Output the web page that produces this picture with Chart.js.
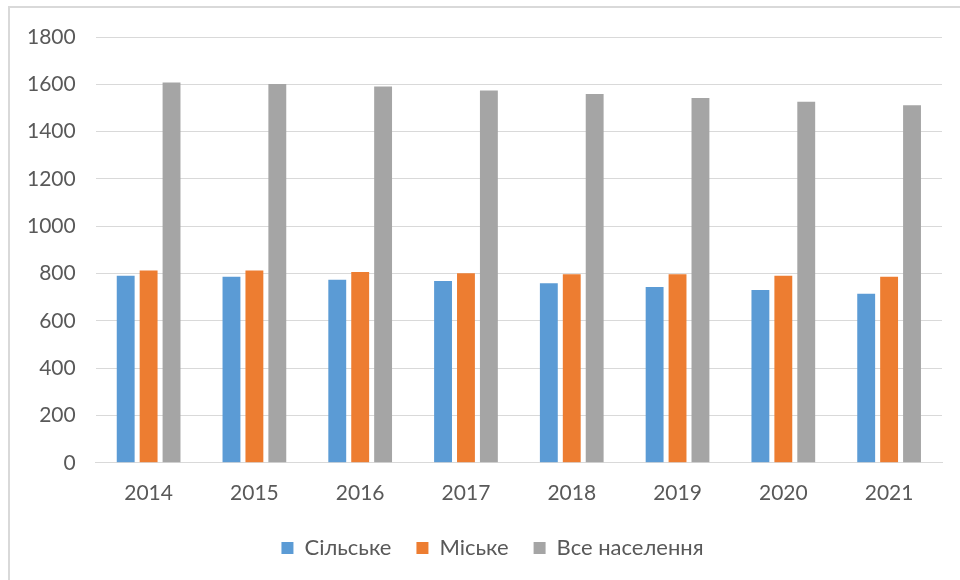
<!DOCTYPE html>
<html>
<head>
<meta charset="utf-8">
<script src="https://cdn.jsdelivr.net/npm/chart.js@4"></script>
<style>
  html, body { margin: 0; padding: 0; background: #fff; }
  #wrap { width: 960px; height: 580px; position: relative; }
</style>
</head>
<body>
<div id="wrap"><canvas id="chart" width="960" height="580"></canvas></div>
<script>
const YEARS = ['2014', '2015', '2016', '2017', '2018', '2019', '2020', '2021'];
const RURAL = [791, 786, 774, 769, 759, 743, 731, 715];
const URBAN = [813, 813, 807, 801, 797, 797, 791, 786];
const TOTAL = [1608, 1601, 1591, 1574, 1559, 1542, 1526, 1511];
const SERIES_NAMES = ['Сільське', 'Міське', 'Все населення'];

const COLORS = ['#5b9bd5', '#ed7d31', '#a5a5a5'];
const TEXT_COLOR = '#595959';
const GRID_COLOR = '#d9d9d9';
const FONT = { family: 'Lato, sans-serif', size: 21 };
const LEGEND_FONT = { family: 'Lato, sans-serif', size: 22 };
const LEGEND_SHIFT = 18;

// light frame along the top and left edges
const framePlugin = {
    id: 'frame',
    beforeDraw(chart) {
        const { ctx, width, height } = chart;
        ctx.save();
        ctx.strokeStyle = '#d9d9d9';
        ctx.lineWidth = 2;
        ctx.beginPath();
        ctx.moveTo(width, 7);
        ctx.lineTo(9, 7);
        ctx.lineTo(9, height);
        ctx.stroke();
        ctx.restore();
    }
};

// nudge the legend row a little to the right of the plot centre
const legendShiftPlugin = {
    id: 'legendShift',
    afterLayout(chart) {
        const lg = chart.legend;
        if (!lg) return;
        lg.left += LEGEND_SHIFT;
        lg.right += LEGEND_SHIFT;
    }
};

function makeDataset(label, data, i) {
    return {
        label: label,
        data: data,
        backgroundColor: COLORS[i],
        borderWidth: 0,
        categoryPercentage: 0.65,
        barPercentage: 0.78
    };
}

new Chart(document.getElementById('chart'), {
    type: 'bar',
    data: {
        labels: YEARS,
        datasets: [
            makeDataset(SERIES_NAMES[0], RURAL, 0),
            makeDataset(SERIES_NAMES[1], URBAN, 1),
            makeDataset(SERIES_NAMES[2], TOTAL, 2)
        ]
    },
    options: {
        responsive: false,
        animation: false,
        layout: { padding: { top: 37, left: 7, right: 18, bottom: 11 } },
        plugins: {
            tooltip: { enabled: false },
            legend: {
                position: 'bottom',
                maxHeight: 59,
                labels: {
                    font: LEGEND_FONT,
                    color: TEXT_COLOR,
                    boxWidth: 12,
                    boxHeight: 12,
                    padding: 25
                }
            }
        },
        scales: {
            x: {
                grid: { display: false, drawTicks: false },
                border: { color: GRID_COLOR, width: 1 },
                ticks: { font: FONT, color: TEXT_COLOR, padding: 18 },
                afterFit(scale) {
                    scale.height -= 12;
                }
            },
            y: {
                min: 0,
                max: 1800,
                grid: { color: GRID_COLOR, drawTicks: false },
                border: { display: false },
                ticks: {
                    stepSize: 200,
                    font: FONT,
                    color: TEXT_COLOR,
                    padding: 20,
                    callback: (v) => String(v)
                }
            }
        }
    },
    plugins: [framePlugin, legendShiftPlugin]
});
</script>
</body>
</html>
